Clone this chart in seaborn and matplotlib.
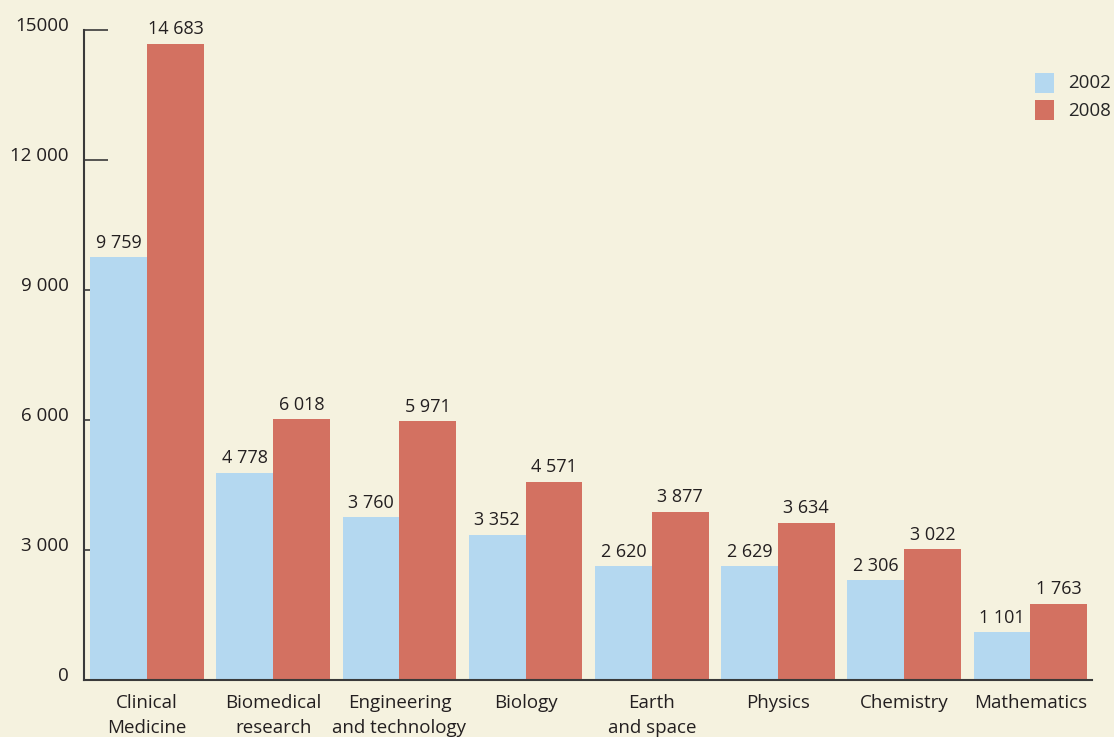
import numpy as np
import pandas as pd
import matplotlib.pyplot as plt
import matplotlib.transforms as mtransforms
import seaborn as sns

fields = ["Clinical\nMedicine", "Biomedical\nresearch", "Engineering\nand technology",
          "Biology", "Earth\nand space", "Physics", "Chemistry", "Mathematics"]
years = ["2002", "2008"]
vals_2002 = [9759, 4778, 3760, 3352, 2620, 2629, 2306, 1101]
vals_2008 = [14683, 6018, 5971, 4571, 3877, 3634, 3022, 1763]
y_ticks = [0, 3000, 6000, 9000, 12000, 15000]
y_tick_labels = ["0", "3 000", "6 000", "9 000", "12 000", "15000"]

BG = "#f5f2df"
TXT = "#231f20"
palette = {"2002": "#b4d8f0", "2008": "#d37161"}

df = pd.DataFrame({
    "field": fields * 2,
    "year": [years[0]] * len(fields) + [years[1]] * len(fields),
    "count": vals_2002 + vals_2008,
})

sns.set_style("white")
plt.rcParams["font.family"] = ["Open Sans", "DejaVu Sans"]

fig = plt.figure(figsize=(11.14, 7.37), dpi=100, facecolor=BG)
ax = fig.add_axes([0.0754, 0.0773, 0.905, 0.882])
ax.set_facecolor(BG)

sns.barplot(data=df, x="field", y="count", hue="year", palette=palette,
            width=0.9, gap=0, saturation=1, linewidth=0, ax=ax, legend=True)

for cont in ax.containers:
    ax.bar_label(cont, labels=[f"{v:,.0f}".replace(",", " ") for v in cont.datavalues],
                 padding=4, fontsize=13, color=TXT)

ax.set_xlim(-0.5, 7.49)
ax.set_ylim(0, 15000)
ax.set_yticks(y_ticks)
ax.set_yticklabels(y_tick_labels, fontsize=13.5, color=TXT)
ax.tick_params(axis="y", left=True, direction="in", length=17, width=1.2,
               color="#3a3a3a", pad=11)
ax.tick_params(axis="x", bottom=False, length=0, pad=10, labelsize=13.5, labelcolor=TXT)
ax.set_axisbelow(True)
ax.set_xlabel("")
ax.set_ylabel("")

shift = mtransforms.ScaledTranslation(0, 4 / 72, fig.dpi_scale_trans)
for lab in ax.get_yticklabels():
    lab.set_transform(lab.get_transform() + shift)
for lab in ax.get_xticklabels():
    lab.set_linespacing(1.5)

for s in ["top", "right"]:
    ax.spines[s].set_visible(False)
for s in ["left", "bottom"]:
    ax.spines[s].set_color("#3a3a3a")
    ax.spines[s].set_linewidth(1.5)

leg = ax.legend(loc="upper left", bbox_to_anchor=(0.9285, 0.956), frameon=False,
                fontsize=13.5, handlelength=1.0, handleheight=1.0,
                handletextpad=0.75, labelspacing=0.45, borderpad=0.3)
for h in leg.legend_handles:
    h.set_height(14)
    h.set_y(-3)

plt.savefig("out.png", dpi=100, facecolor=BG)
